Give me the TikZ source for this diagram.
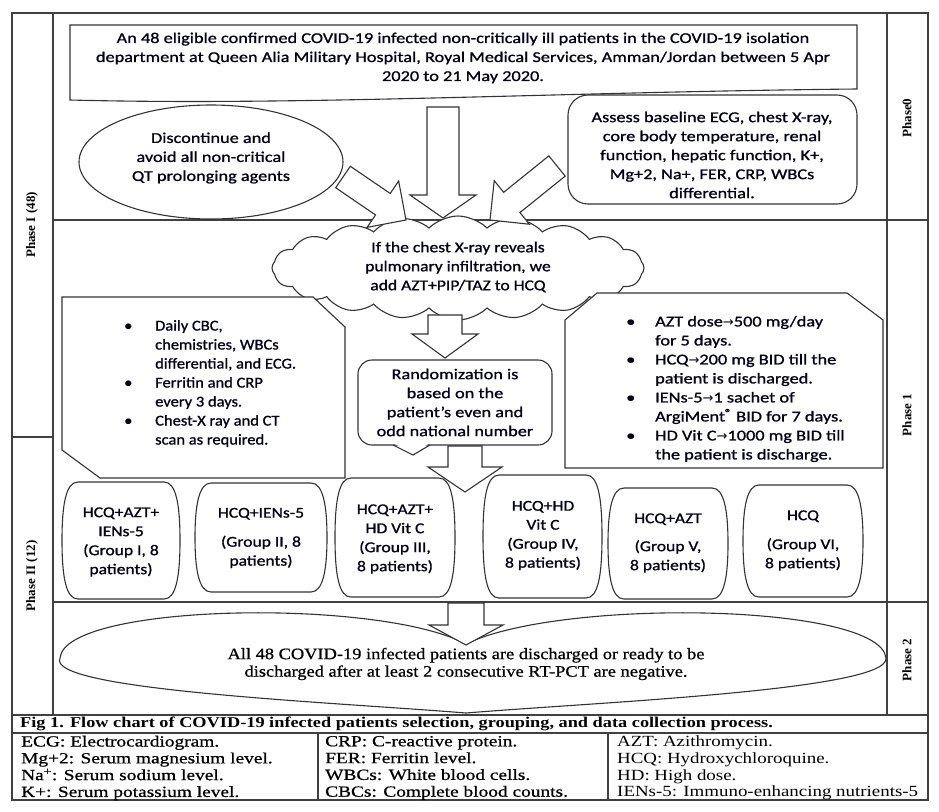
\documentclass[tikz,border=0pt]{standalone}
\usepackage{fontspec}
\setmainfont{Liberation Serif}
\newfontfamily\calfont[FakeStretch=1.22,FakeBold=1]{Carlito}
\newfontfamily\calmid[FakeStretch=1.17,FakeBold=1]{Carlito}
\newfontfamily\calnarrow[FakeStretch=1.1,FakeBold=1]{Carlito}
\newfontfamily\serifwide[FakeStretch=1.15,FakeBold=0.8]{Liberation Serif}
\newfontfamily\tabfont[FakeStretch=1.25,FakeBold=0.8]{Liberation Serif}
\newfontfamily\capfont[FakeStretch=1.22]{Liberation Serif}
\newfontfamily\arrowfont{DejaVu Sans}
\usetikzlibrary{calc,shapes.geometric,shapes.symbols}
\newcommand{\blkarrow}[5]{%
  \coordinate (ba-h) at ($(#2)!#5!(#1)$);
  \draw[blockarrow] ($(#1)!#3!90:(#2)$) -- ($(ba-h)!#3!-90:(#1)$) -- ($(ba-h)!#4!-90:(#1)$) -- (#2) -- ($(ba-h)!#4!90:(#1)$) -- ($(ba-h)!#3!90:(#1)$) -- ($(#1)!#3!-90:(#2)$) -- cycle;}
\newcommand{\barrel}[4]{%
  \draw[box] ({#1+16},#2) -- ({#3-16},#2) .. controls ({#3-4},#2) and (#3,{#2+22}) .. (#3,{(#2+#4)/2})
   .. controls (#3,{#4-22}) and ({#3-4},#4) .. ({#3-16},#4) -- ({#1+16},#4)
   .. controls ({#1+4},#4) and (#1,{#4-22}) .. (#1,{(#2+#4)/2})
   .. controls (#1,{#2+22}) and ({#1+4},#2) .. ({#1+16},#2) -- cycle;}
\newcommand{\ar}{{\arrowfont\fontsize{13}{19}\selectfont →}}
\tikzset{
  ln/.style={draw=black!80, line width=1.1pt},
  frame/.style={draw=black!75, line width=1.6pt},
  box/.style={ln, fill=white},
  txt/.style={font=\calfont\fontsize{15}{19}\selectfont, align=center, inner sep=0pt, text=black!90!blue},
  blockarrow/.style={ln, fill=white, line join=miter},
  phase/.style={font=\bfseries\fontsize{13}{15}\selectfont, rotate=90, inner sep=0pt},
  tabtxt/.style={font=\tabfont\fontsize{15.5}{16.8}\selectfont, align=left, inner sep=0pt, anchor=west},
}
\begin{document}
\begin{tikzpicture}[x=1pt,y=-1pt]
\useasboundingbox (0,0) rectangle (939,811);
\fill[white] (0,0) rectangle (939,811);
% frame
\draw[frame] (12,13) rectangle (928,800);
\draw[frame] (53,13) -- (53,715);
\draw[frame] (887,13) -- (887,715);
\draw[frame] (53,220) -- (928,220);
\draw[frame] (53,602) -- (928,602);
\draw[frame] (12,437) -- (53,437);
\draw[frame] (12,715) -- (928,715);
\draw[frame] (12,733) -- (928,733);
\draw[frame] (318,733) -- (318,800);
\draw[frame] (608,733) -- (608,800);
% phase labels
\node[phase] (p1l) at (32,225) {Phase I (48)};
\node[phase] (p2l) at (32,576) {Phase II (12)};
\node[phase] (p0r) at (907,118) {Phase0};
\node[phase] (p1r) at (907,415) {Phase 1};
\node[phase] (p2r) at (907,660) {Phase 2};
% top box
\draw[box] (70,25) -- (857,25) -- (857,89) .. controls (560,92) and (300,106) .. (70,100) -- cycle;
\node[txt] (top) at (463,58) {An 48 eligible confirmed COVID-19 infected non-critically ill patients in the COVID-19 isolation\\department at Queen Alia Military Hospital, Royal Medical Services, Amman/Jordan between 5 Apr\\2020 to 21 May 2020.};
% ellipse & assess
\draw[box] (211,162) ellipse [x radius=132, y radius=57];
\node[txt] (disc) at (211,158) {Discontinue and\\avoid all non-critical\\QT prolonging agents};
\draw[box, rounded corners=20] (568,95) rectangle (857,204);
\node[txt] (assess) at (712,155) {Assess baseline ECG, chest X-ray,\\core body temperature, renal\\function, hepatic function, K+,\\Mg+2, Na+, FER, CRP, WBCs\\differential.};
% cloud
\node[cloud, cloud puffs=20, cloud puff arc=90, cloud ignores aspect, box, minimum width=372, minimum height=104] (cloudshape) at (458,268) {};
\node[txt, font=\calmid\fontsize{15}{19}\selectfont] (cloud) at (458,267) {If the chest X-ray reveals\\pulmonary infiltration, we\\add AZT+PIP/TAZ to HCQ};
% arrows into cloud
\coordinate (a1s) at (443,107); \coordinate (a1e) at (443,218);
\coordinate (a2s) at (343,177); \coordinate (a2e) at (406,220);
\coordinate (a3s) at (557,166); \coordinate (a3e) at (490,220);
\blkarrow{a1s}{a1e}{16pt}{33pt}{23pt}
\blkarrow{a2s}{a2e}{13pt}{28pt}{28pt}
\blkarrow{a3s}{a3e}{13pt}{28pt}{28pt}
% left callout
\draw[box] (62,297) -- (313,297) -- (345,327) -- (345,478) -- (100,478) -- (62,450) -- cycle;
\node[txt, font=\calnarrow\fontsize{15}{19}\selectfont, align=left, anchor=west] (lnotes) at (124,383.5) {\makebox[31pt][l]{\textbullet}Daily CBC,\\\hspace*{31pt}chemistries, WBCs\\\hspace*{31pt}differential, and ECG.\\\makebox[31pt][l]{\textbullet}Ferritin and CRP\\\hspace*{31pt}every 3 days.\\\makebox[31pt][l]{\textbullet}Chest-X ray and CT\\\hspace*{31pt}scan as required.};
% right callout
\draw[box] (565,320) -- (597,293) -- (847,293) -- (883,320) -- (883,468) -- (565,468) -- cycle;
\node[txt, align=left, anchor=west] (rnotes) at (626,389) {\makebox[29pt][l]{\textbullet}AZT dose\ar 500 mg/day\\\hspace*{29pt}for 5 days.\\\makebox[29pt][l]{\textbullet}HCQ\ar 200 mg BID till the\\\hspace*{29pt}patient is discharged.\\\makebox[29pt][l]{\textbullet}IENs-5\ar 1 sachet of\\\hspace*{29pt}ArgiMent\textsuperscript{®} BID for 7 days.\\\makebox[29pt][l]{\textbullet}HD Vit C\ar 1000 mg BID till\\\hspace*{29pt}the patient is discharge.};
% randomization
\node[box, txt, rounded corners=14, minimum width=194, minimum height=85] (rand) at (455,402.5) {Randomization is\\based on the\\patient’s even and\\odd national number};
\fill[white] (394,443.5) -- (429,443.5) -- (413,453) -- cycle;
\draw[ln, line join=miter] (393,445) -- (413,455) -- (430,445);
\coordinate (a4s) at (445,315); \coordinate (a4e) at (445,358);
\blkarrow{a4s}{a4e}{17pt}{33pt}{24pt}
% groups
\barrel{62}{482}{180}{599}
\barrel{195}{483}{327}{592}
\barrel{335}{478}{455}{597}
\barrel{483}{475}{602}{598}
\barrel{608}{488}{728}{599}
\barrel{743}{485}{863}{597}
\tikzset{grp/.style={txt, font=\calmid\fontsize{15}{19}\selectfont}}
\node[grp] (g1) at (121,542) {HCQ+AZT+\\IENs-5\\(Group I, 8\\patients)};
\node[grp] (g2) at (261,538) {HCQ+IENs-5\\[10pt](Group II, 8\\patients)};
\node[grp] (g3) at (395,539) {HCQ+AZT+\\HD Vit C\\(Group III,\\8 patients)};
\node[grp] (g4) at (543,535.5) {HCQ+HD\\Vit C\\(Group IV,\\8 patients)};
\node[grp] (g5) at (668,543) {HCQ+AZT\\[9pt](Group V,\\8 patients)};
\node[grp] (g6) at (803,540.5) {HCQ\\[10pt](Group VI,\\8 patients)};
\coordinate (a5s) at (465,446); \coordinate (a5e) at (465,492);
\blkarrow{a5s}{a5e}{17pt}{37pt}{25pt}
% phase 2
\draw[box] (466,644) .. controls (560,598) and (880,603) .. (886,658) .. controls (890,690) and (600,702) .. (466,713) .. controls (330,702) and (45,690) .. (60,658) .. controls (65,603) and (380,598) .. (466,644) -- cycle;
\node[font=\serifwide\fontsize{16}{17.5}\selectfont, align=center, inner sep=0pt] (disch) at (466,664) {All 48 COVID-19 infected patients are discharged or ready to be\\discharged after at least 2 consecutive RT-PCT are negative.};
\coordinate (a6s) at (466,603); \coordinate (a6e) at (466,645);
\blkarrow{a6s}{a6e}{18pt}{37pt}{20pt}
% caption and table
\node[font=\capfont\bfseries\fontsize{15}{17}\selectfont, anchor=west, inner sep=0pt] (cap) at (20,724) {Fig 1. Flow chart of COVID-19 infected patients selection, grouping, and data collection process.};
\node[tabtxt] (t1) at (21,768) {ECG: Electrocardiogram.\\Mg+2: Serum magnesium level.\\Na\textsuperscript{+}: Serum sodium level.\\K+: Serum potassium level.};
\node[tabtxt] (t2) at (325,768) {CRP: C-reactive protein.\\FER: Ferritin level.\\WBCs: White blood cells.\\CBCs: Complete blood counts.};
\node[tabtxt, font=\capfont\fontsize{15.5}{16.8}\selectfont] (t3) at (617,768) {AZT: Azithromycin.\\HCQ: Hydroxychloroquine.\\HD: High dose.\\IENs-5: Immuno-enhancing nutrients-5};
\end{tikzpicture}
\end{document}
